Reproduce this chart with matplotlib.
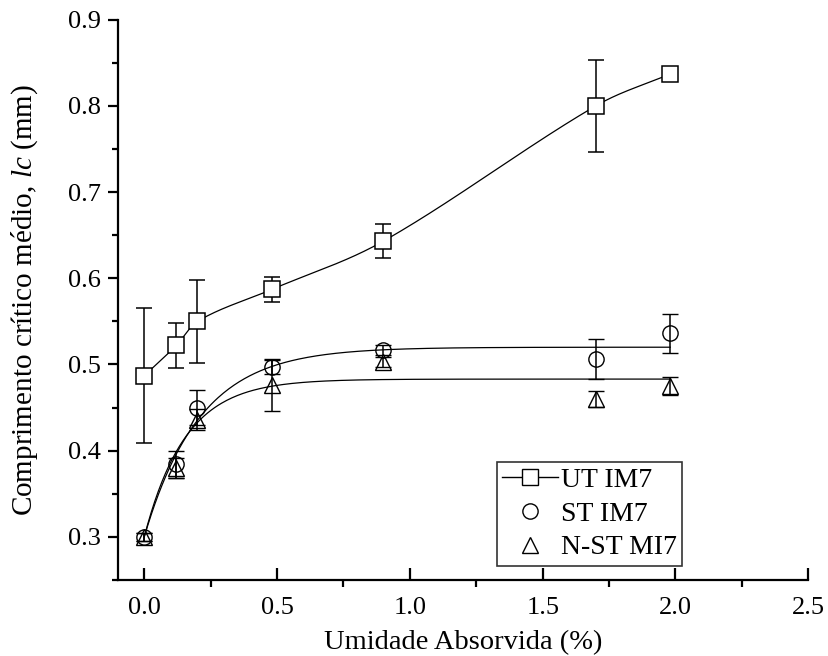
import numpy as np
import matplotlib
matplotlib.use("Agg")
import matplotlib.pyplot as plt
from matplotlib.ticker import MultipleLocator

plt.rcParams['font.family'] = ['Liberation Serif', 'DejaVu Serif']
plt.rcParams['mathtext.fontset'] = 'custom'
plt.rcParams['mathtext.rm'] = 'Liberation Serif'
plt.rcParams['mathtext.it'] = 'Liberation Serif:italic'

# absorbed moisture (%)
x = [0.0, 0.12, 0.2, 0.48, 0.9, 1.7, 1.98]

# mean critical length (mm) and error bars
ut = [0.487, 0.522, 0.550, 0.587, 0.643, 0.800, 0.837]
ut_err = [0.078, 0.026, 0.048, 0.015, 0.020, 0.053, 0.008]
st = [0.300, 0.384, 0.450, 0.497, 0.517, 0.506, 0.536]
st_err = [0.005, 0.016, 0.020, 0.008, 0.006, 0.023, 0.023]
nst = [0.300, 0.380, 0.436, 0.476, 0.503, 0.460, 0.475]
nst_err = [0.005, 0.012, 0.012, 0.030, 0.006, 0.009, 0.010]

# exponential fits: plateau, amplitude, decay constant
st_fit = (0.520, 0.220, 0.21)
nst_fit = (0.483, 0.183, 0.155)

labels = ['UT IM7', 'ST IM7', 'N-ST MI7']


def smooth_line(xs, ys, xn):
    # cubic Hermite with centred-difference slopes
    xs = np.asarray(xs, float)
    ys = np.asarray(ys, float)
    h = np.diff(xs)
    n = len(xs)
    m = np.zeros(n)
    m[1:-1] = (ys[2:] - ys[:-2]) / (xs[2:] - xs[:-2])
    m[0] = (ys[1] - ys[0]) / h[0]
    m[-1] = (ys[-1] - ys[-2]) / h[-1]
    out = np.empty_like(xn)
    for k, xv in enumerate(xn):
        i = min(max(np.searchsorted(xs, xv) - 1, 0), n - 2)
        t = (xv - xs[i]) / h[i]
        h00 = 2 * t**3 - 3 * t**2 + 1
        h10 = t**3 - 2 * t**2 + t
        h01 = -2 * t**3 + 3 * t**2
        h11 = t**3 - t**2
        out[k] = h00 * ys[i] + h10 * h[i] * m[i] + h01 * ys[i + 1] + h11 * h[i] * m[i + 1]
    return out


def exp_fit(p, xn):
    return p[0] - p[1] * np.exp(-xn / p[2])


fig = plt.figure(figsize=(8.29, 6.56), dpi=100)
ax = fig.add_axes([0.142, 0.116, 0.833, 0.854])

xx = np.linspace(x[0], x[-1], 300)
ax.plot(xx, smooth_line(x, ut, xx), color='black', lw=0.9, zorder=2)
ax.plot(xx, exp_fit(st_fit, xx), color='black', lw=0.9, zorder=2)
ax.plot(xx, exp_fit(nst_fit, xx), color='black', lw=0.9, zorder=2)

ebkw = dict(ecolor='black', elinewidth=1.1, capsize=6, capthick=1.1, linestyle='none')
ax.errorbar(x, ut, yerr=ut_err, fmt='s', ms=11, mfc='white', mec='black', mew=1.1,
            zorder=3, **ebkw)
ax.errorbar(x, st, yerr=st_err, fmt='o', ms=11, mfc='none', mec='black', mew=1.0,
            zorder=3, **ebkw)
ax.errorbar(x, nst, yerr=nst_err, fmt='^', ms=12, mfc='none', mec='black', mew=1.0,
            zorder=3, **ebkw)

# legend handles
h1, = ax.plot([], [], color='black', lw=1, marker='s', ms=11, mfc='white', mec='black')
h2, = ax.plot([], [], ls='none', marker='o', ms=11, mfc='none', mec='black')
h3, = ax.plot([], [], ls='none', marker='^', ms=12, mfc='none', mec='black')
leg = ax.legend([h1, h2, h3], labels, loc='lower left', bbox_to_anchor=(0.549, 0.025),
                fontsize=20, frameon=True, fancybox=False, edgecolor='black',
                handlelength=2.0, handletextpad=0.1, labelspacing=0.3,
                borderpad=0.2, borderaxespad=0)
leg.get_frame().set_linewidth(1.2)

ax.set_xlim(-0.1, 2.5)
ax.set_ylim(0.25, 0.9)
ax.xaxis.set_minor_locator(MultipleLocator(0.25))
ax.yaxis.set_minor_locator(MultipleLocator(0.05))
ax.set_xticks([0.0, 0.5, 1.0, 1.5, 2.0, 2.5])
ax.set_xticklabels(['0.0', '0.5', '1.0', '1.5', '2.0', '2.5'])
ax.set_yticks([0.3, 0.4, 0.5, 0.6, 0.7, 0.8, 0.9])
ax.set_yticklabels(['0.3', '0.4', '0.5', '0.6', '0.7', '0.8', '0.9'])

ax.spines['top'].set_visible(False)
ax.spines['right'].set_visible(False)
for s in ('left', 'bottom'):
    ax.spines[s].set_linewidth(1.6)

ax.tick_params(axis='x', which='major', direction='in', length=9, width=1.6,
               labelsize=19, pad=12)
ax.tick_params(axis='x', which='minor', direction='out', length=5, width=1.6)
ax.tick_params(axis='y', which='major', direction='out', length=7, width=1.6,
               labelsize=19, pad=5)
ax.tick_params(axis='y', which='minor', direction='out', length=4, width=1.6)

ax.set_xlabel('Umidade Absorvida (%)', fontsize=20.5, labelpad=8)
ax.set_ylabel(r'Comprimento crítico médio, $\mathit{lc}$ (mm)', fontsize=21, labelpad=20)

fig.savefig('out.png', dpi=100)
